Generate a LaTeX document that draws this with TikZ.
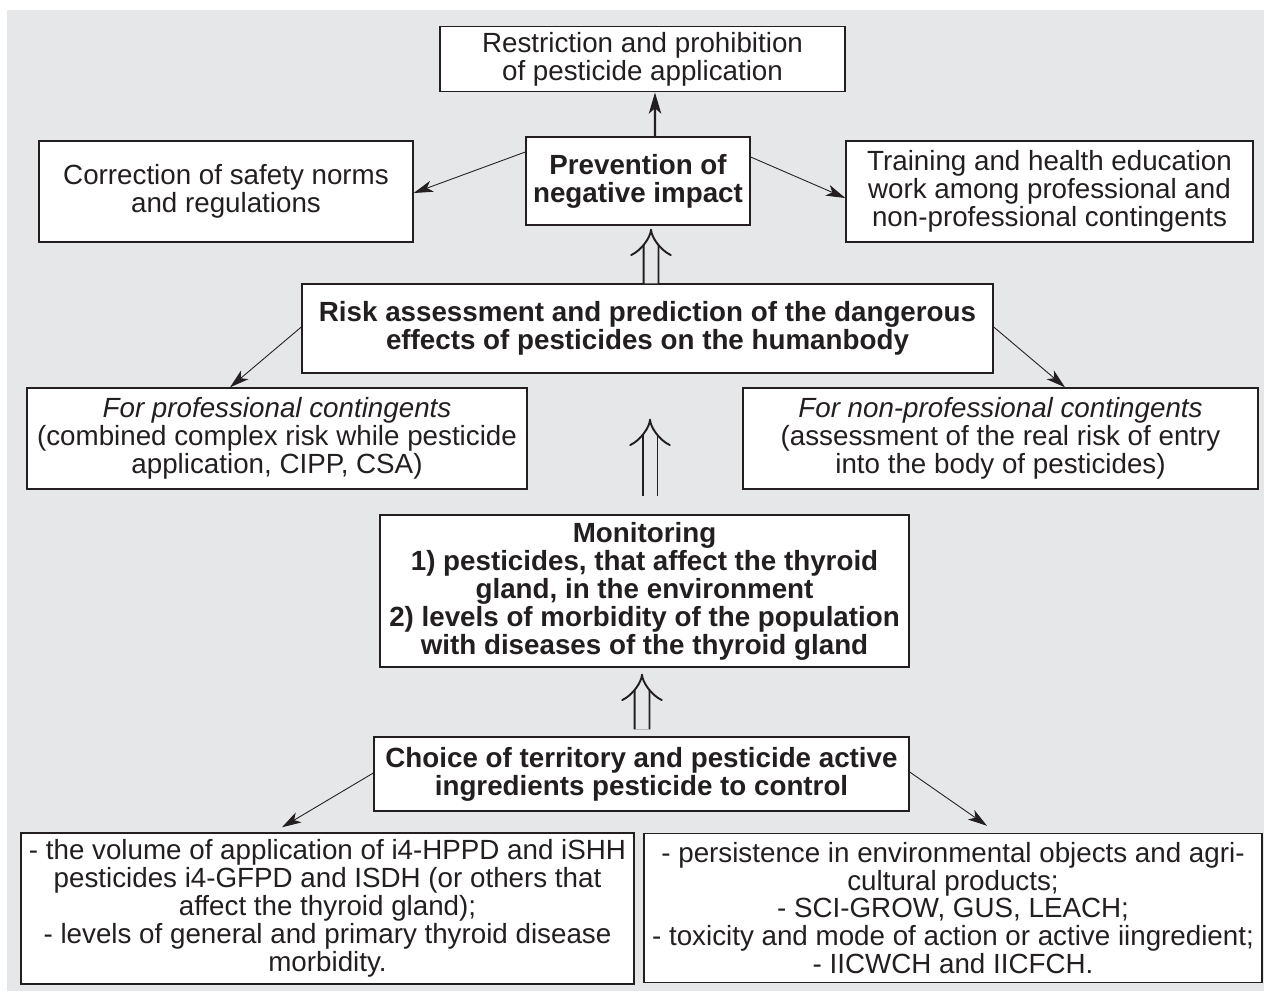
\documentclass[tikz,border=0pt]{standalone}
\usepackage{fontspec}
\setmainfont{Liberation Sans}
\usetikzlibrary{arrows.meta,positioning,calc}
\definecolor{panelgray}{HTML}{E6E7E8}
\definecolor{inkblack}{HTML}{231F20}
\tikzset{x=0.02cm, y=-0.02cm, % one unit is one pixel of the original, y runs downwards
        every node/.style={ % Sets the text for each box
            font=\fontsize{15.8}{15.9}\selectfont,
            text=inkblack},
        boxsize/.style 2 args={minimum width=#1*0.02cm, minimum height=#2*0.02cm},
        box/.style={ % Plain white box
            draw=inkblack,
            line width=0.8pt,
            fill=white,
            align=center,
            inner xsep=0pt},
        boldbox/.style={box, font=\fontsize{15.8}{15.9}\selectfont\bfseries},
        thin arrow/.style={ % Arrows to the side boxes
            draw=inkblack,
            line width=0.5pt,
            -{Stealth[length=11pt,width=6.5pt,inset=3pt]}},
        thick arrow/.style={
            draw=inkblack,
            line width=1.4pt,
            -{Stealth[length=12pt,width=7pt,inset=3pt]}},
        dbl arrow/.style={ % Hollow double arrow between the main steps
            draw=inkblack,
            line width=1.1pt,
            double=panelgray,
            double distance=7.4pt,
            -{Implies}}
        }

\begin{document}
\begin{tikzpicture}
    \useasboundingbox (0,0) rectangle (1264,991);
    \fill[white] (0,0) rectangle (1264,991);
    \fill[panelgray] (7,10) rectangle (1264,991);

    \node[box, boxsize={405}{62}] (restr) at (642.5,59)
        {Restriction and prohibition\\of pesticide application};
    \node[boldbox, boxsize={224}{88}] (prev) at (638,181)
        {Prevention of\\negative impact};
    \node[box, boxsize={374}{101}] (corr) at (226,191.5)
        {Correction of safety norms\\and regulations};
    \node[box, boxsize={407}{101}] (train) at (1049.5,191.5)
        {Training and health education\\work among professional and\\non-professional contingents};
    \node[boldbox, boxsize={691}{89}] (risk) at (647.5,328.5)
        {Risk assessment and prediction of the dangerous\\effects of pesticides on the humanbody};
    \node[box, boxsize={500}{101}] (prof) at (277,438.5)
        {\itshape For professional contingents\\(combined complex risk while pesticide\\application, CIPP, CSA)};
    \node[box, boxsize={515}{101}] (nonprof) at (1000.5,438.5)
        {\itshape For non-professional contingents\\(assessment of the real risk of entry\\into the body of pesticides)};
    \node[boldbox, boxsize={529}{152}] (monit) at (644.5,591)
        {Monitoring\\1) pesticides, that affect the thyroid\\gland, in the environment\\2) levels of morbidity of the population\\with diseases of the thyroid gland};
    \node[boldbox, boxsize={535}{74}] (choice) at (641.5,774)
        {Choice of territory and pesticide active\\ingredients pesticide to control};
    \node[box, boxsize={613}{151}] (volume) at (327.5,908.5)
        {- the volume of application of i4-HPPD and iSHH\\pesticides i4-GFPD and ISDH (or others that\\affect the thyroid gland);\\- levels of general and primary thyroid disease\\morbidity.};
    \node[box, boxsize={618}{149}] (persist) at (953,908)
        {- persistence in environmental objects and agri-\\cultural products;\\- SCI-GROW, GUS, LEACH;\\- toxicity and mode of action or active iingredient;\\- IICWCH and IICFCH.};

    % prevention and its three measures
    \draw[thick arrow] ($(prev.north)+(17,0)$) -- ($(restr.south)+(12.5,0)$);
    \draw[thin arrow] ($(prev.west)+(0,-29)$) -- ($(corr.east)+(0,1.5)$);
    \draw[thin arrow] ($(prev.east)+(0,-24)$) -- ($(train.west)+(0,6.5)$);

    % risk assessment
    \draw[dbl arrow] ($(risk.north)+(3.5,0)$) -- ($(prev.south)+(13,3)$);
    \draw[thin arrow] ($(risk.west)+(0,-1.5)$) -- ($(prof.north)+(-47,0)$);
    \draw[thin arrow] ($(risk.east)+(0,-1.5)$) -- ($(nonprof.north)+(64.5,0)$);

    % monitoring and choice
    \draw[dbl arrow] ($(monit.north)+(5.5,-18)$) -- ($(risk.south)+(2.5,45)$);
    \draw[dbl arrow] ($(choice.north)+(0.5,-7)$) -- ($(monit.south)+(-2.5,6)$);
    \draw[thin arrow] ($(choice.west)+(0,-1)$) -- ($(volume.north)+(-45.5,-5)$);
    \draw[thin arrow] ($(choice.east)+(0,-2)$) -- ($(persist.north)+(34,-7)$);
\end{tikzpicture}
\end{document}
